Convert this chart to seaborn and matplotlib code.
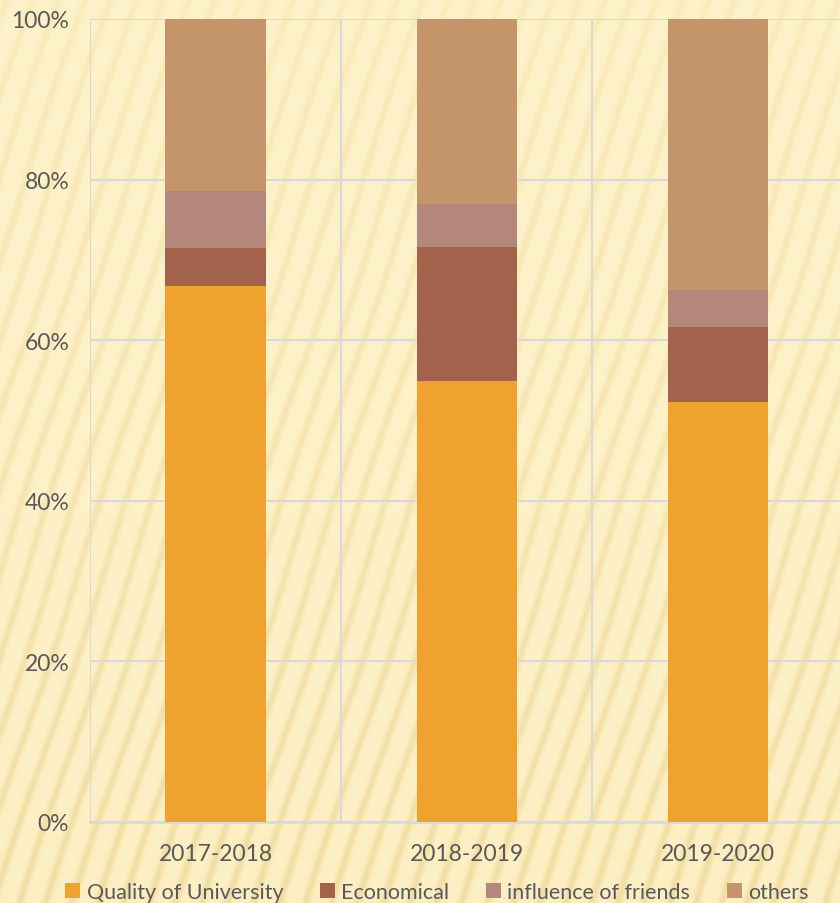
import numpy as np
import pandas as pd
import seaborn as sns
import matplotlib.pyplot as plt
from matplotlib.patches import Patch

# values (percent of each year)
years = ['2017-2018', '2018-2019', '2019-2020']
quality = [66.7, 54.9, 52.3]
economical = [4.8, 16.7, 9.3]
friends = [7.1, 5.4, 4.7]
others = [21.4, 23.0, 33.7]

series = ['Quality of University', 'Economical', 'influence of friends', 'others']
colors = ['#EFA22E', '#A3624B', '#B4877C', '#C4956A']

sns.set_theme(style='white')
plt.rcParams['font.family'] = ['Lato', 'DejaVu Sans']

df = pd.DataFrame({'year': years, 'Quality of University': quality,
                   'Economical': economical, 'influence of friends': friends,
                   'others': others})
cum = df[series].cumsum(axis=1)

fig = plt.figure(figsize=(8.4, 9.04), dpi=100)

# striped paper background
h, w = 904, 840
yy, xx = np.mgrid[0:h, 0:w]
wave = 0.5 + 0.5 * np.sin(2 * np.pi * (xx + 0.33 * yy + 2 * np.sin(yy / 60.0)) / 26.0)
wave = wave ** 4
light = np.array([254, 242, 202]) / 255.0
dark = np.array([238, 216, 150]) / 255.0
shade = 0.3 + 0.35 * (yy / h)
mix = np.clip(wave * shade + 0.12 * (yy / h) ** 2, 0, 1)[..., None]
img = light * (1 - mix) + dark * mix
bg = fig.add_axes([0, 0, 1, 1], zorder=-10)
bg.imshow(img, aspect='auto', interpolation='bilinear')
bg.axis('off')

ax = fig.add_axes([90 / 840, (904 - 823) / 904, 753.5 / 840, 803 / 904])
ax.set_facecolor('none')

# stacked bars: draw cumulative totals from top layer down
for name, c in zip(series[::-1], colors[::-1]):
    sns.barplot(x=df['year'], y=cum[name], color=c, width=0.4,
                saturation=1, linewidth=0, ax=ax, zorder=3)

ax.set_xlim(-0.5, 2.5)
ax.set_ylim(0, 100)
ax.set_yticks(range(0, 101, 20))
ax.set_yticklabels([f'{v}%' for v in range(0, 101, 20)])
ax.set_xticks([-0.5, 0.5, 1.5, 2.5], minor=True)
ax.grid(True, axis='y', color='#D9D9D9', linewidth=1.5, zorder=0)
ax.grid(True, axis='x', which='minor', color='#D9D9D9', linewidth=1.5, zorder=0)
ax.set_axisbelow(True)
for s in ['top', 'right', 'left']:
    ax.spines[s].set_visible(False)
ax.spines['bottom'].set_color('#D9D9D9')
ax.spines['bottom'].set_linewidth(2)
ax.set_xlabel('')
ax.set_ylabel('')
ax.tick_params(axis='both', which='both', length=0, labelsize=16.5, colors='#595959')
ax.tick_params(axis='y', pad=15)
ax.tick_params(axis='x', pad=15)

handles = [Patch(facecolor=c, edgecolor='none') for c in colors]
fig.legend(handles, series, loc='center', bbox_to_anchor=(437 / 840, 1 - 893 / 904),
           ncol=4, frameon=False, fontsize=15.5, labelcolor='#595959',
           handlelength=0.7, handleheight=0.7, handletextpad=0.3,
           columnspacing=1.7)

fig.savefig('out.png', dpi=100)
